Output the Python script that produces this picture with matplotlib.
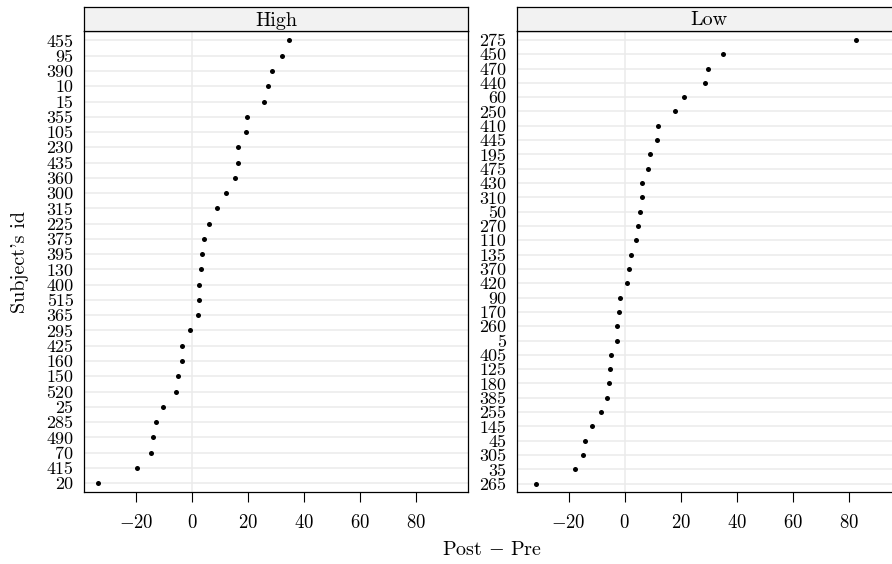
import numpy as np
import matplotlib
matplotlib.use("Agg")
import matplotlib.pyplot as plt

plt.rcParams['font.family'] = ['cmr10', 'DejaVu Serif']
plt.rcParams['mathtext.fontset'] = 'cm'
plt.rcParams['axes.formatter.use_mathtext'] = True

# Data (top row first)
high_ids = ['455', '95', '390', '10', '15', '355', '105', '230', '435', '360',
            '300', '315', '225', '375', '395', '130', '400', '515', '365', '295',
            '425', '160', '150', '520', '25', '285', '490', '70', '415', '20']
high_diff = [34.5, 32.0, 28.6, 27.1, 25.7, 19.6, 19.4, 16.3, 16.3, 15.2,
             12.1, 8.8, 6.1, 4.2, 3.6, 3.3, 2.5, 2.4, 2.1, -0.6,
             -3.4, -3.7, -5.0, -5.7, -10.3, -12.9, -13.9, -14.5, -19.7, -33.6]

low_ids = ['275', '450', '470', '440', '60', '250', '410', '445', '195', '475',
           '430', '310', '50', '270', '110', '135', '370', '420', '90', '170',
           '260', '5', '405', '125', '180', '385', '255', '145', '45', '305',
           '35', '265']
low_diff = [82.5, 35.0, 29.7, 28.5, 21.2, 18.0, 11.7, 11.6, 8.9, 8.2,
            6.3, 6.2, 5.6, 4.9, 4.0, 2.2, 1.4, 0.8, -1.7, -2.0,
            -2.7, -2.7, -4.9, -5.3, -5.6, -6.3, -8.5, -11.5, -14.3, -14.9,
            -17.6, -31.5]

panels = [('High', high_ids, high_diff), ('Low', low_ids, low_diff)]
x_ticks = [-20, 0, 20, 40, 60, 80]

W, H = 892, 564
fig = plt.figure(figsize=(W / 100, H / 100), dpi=100)

panel_w = 384
lefts = [84, 516.7]
top, bottom = 31.3, 492.3
strip_top = 7.3

for (name, ids, diff), left in zip(panels, lefts):
    ax = fig.add_axes([left / W, 1 - bottom / H, panel_w / W, (bottom - top) / H])
    n = len(ids)
    y = np.arange(n)[::-1]
    for yy in y:
        ax.axhline(yy, color='#ebebeb', lw=1.1, zorder=0)
    ax.axvline(0, color='#ebebeb', lw=1.1, zorder=0)
    ax.scatter(diff, y, s=13, color='black', zorder=3, linewidths=0)
    ax.set_xlim(-38.5, 98.4)
    ax.set_ylim(-0.6, n - 1 + 0.6)
    ax.set_yticks(y)
    ax.set_yticklabels(ids, fontsize=13)
    ax.set_xticks(x_ticks)
    ax.tick_params(axis='x', length=7.5, width=0.8, pad=8, labelsize=13.5)
    ax.tick_params(axis='y', length=0, pad=7.5)
    for s in ax.spines.values():
        s.set_linewidth(0.9)

    # strip
    sax = fig.add_axes([left / W, 1 - top / H, panel_w / W, (top - strip_top) / H])
    sax.set_facecolor('#f2f2f2')
    sax.set_xticks([])
    sax.set_yticks([])
    for s in sax.spines.values():
        s.set_linewidth(0.9)
    sax.text(0.5, 0.45, name, ha='center', va='center', fontsize=14.5,
             transform=sax.transAxes)

fig.text(492.4 / W, 1 - 550 / H, r'$\mathrm{Post}\,-\,\mathrm{Pre}$', ha='center',
         va='center', fontsize=14.5)
fig.text(20 / W, 1 - 262 / H, "Subject's id", ha='center', va='center',
         rotation=90, fontsize=14.5)

fig.savefig('out.png', dpi=100)
